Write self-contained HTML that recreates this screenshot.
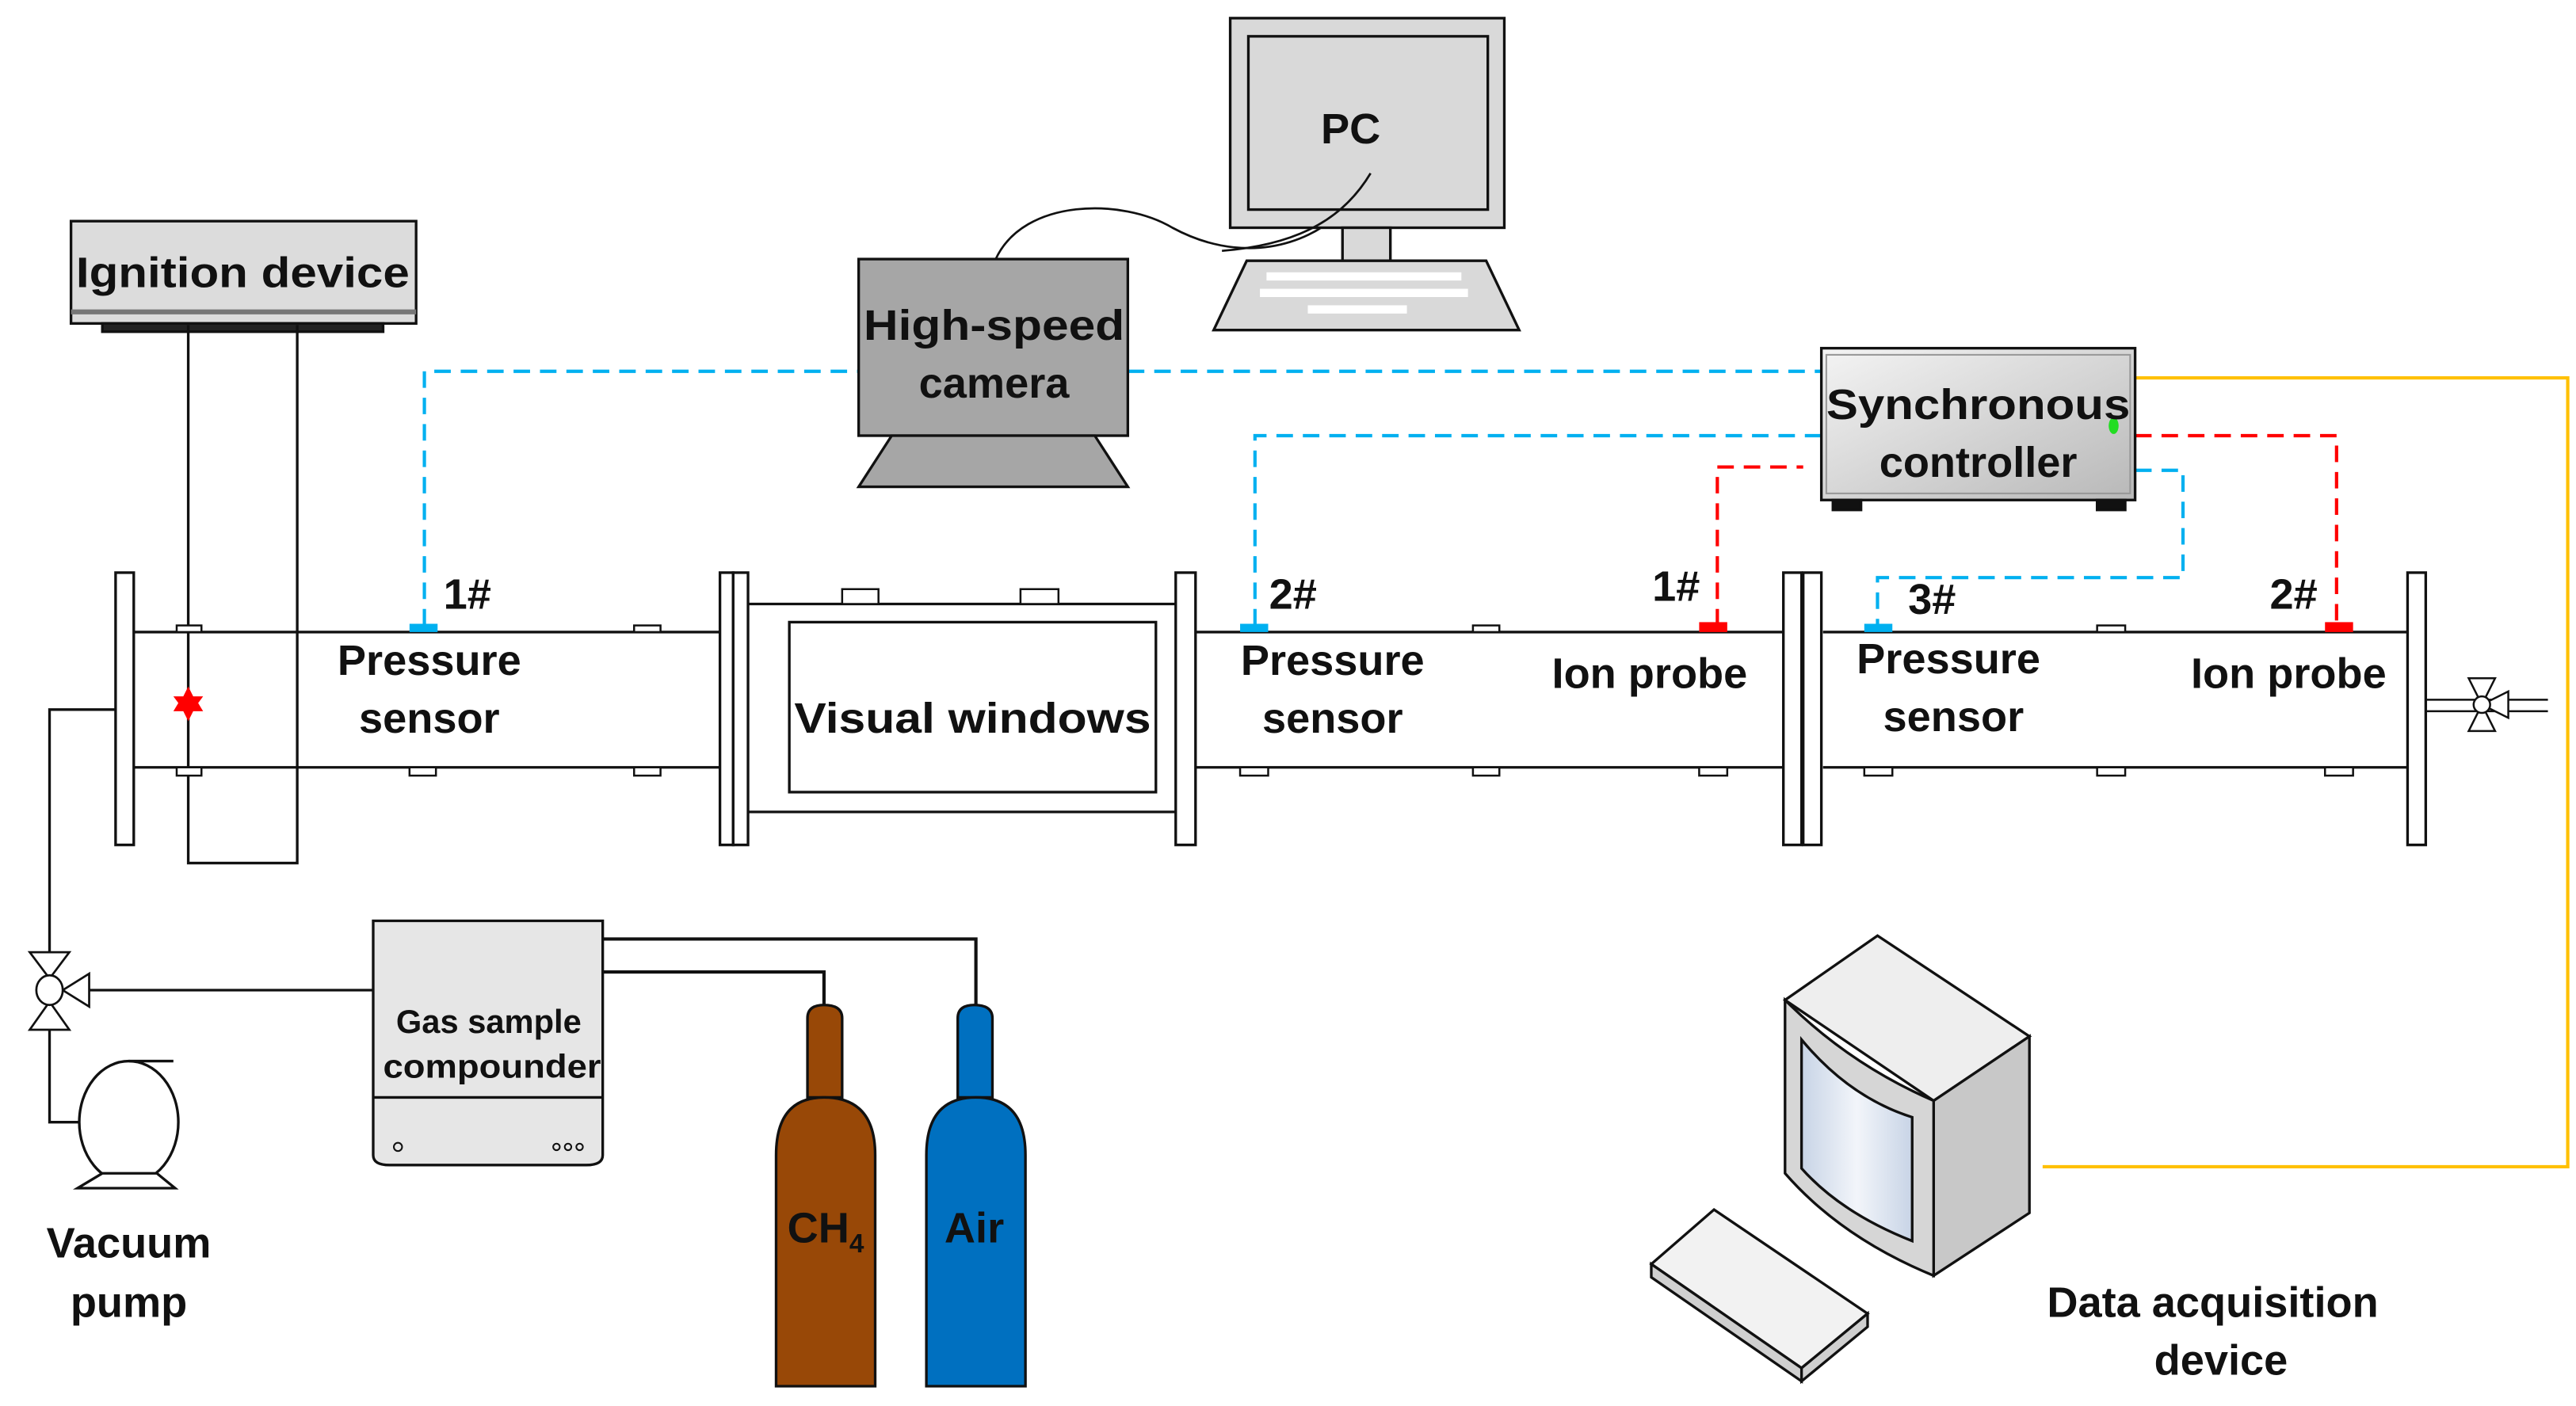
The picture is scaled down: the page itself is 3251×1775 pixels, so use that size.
<!DOCTYPE html>
<html><head><meta charset="utf-8"><style>
html,body{margin:0;padding:0;background:#fff;}
svg{display:block;}
text{font-family:"Liberation Sans",Arial,sans-serif;font-weight:bold;fill:#111;}
</style></head><body>
<svg width="3251" height="1775" viewBox="0 0 1560 852" preserveAspectRatio="none" xmlns="http://www.w3.org/2000/svg">
<defs>
<linearGradient id="sg" x1="0" y1="0" x2="1" y2="1"><stop offset="0" stop-color="#f4f4f4"/><stop offset="1" stop-color="#b8b8b8"/></linearGradient>
<linearGradient id="scr" x1="0" y1="0" x2="1" y2="0"><stop offset="0" stop-color="#c8d4e6"/><stop offset="0.5" stop-color="#f2f5fa"/><stop offset="1" stop-color="#c8d4e6"/></linearGradient>
</defs>
<g stroke="#111" stroke-width="1.6" fill="none">
<!-- connectors -->
<g stroke="#00b0f0" stroke-width="2" stroke-dasharray="10,6">
<path d="M257,379 V225 H520"/><path d="M683,225 H1103"/>
<path d="M760,379 V264 H1103"/>
<path d="M1293,285 H1322 V350 H1137 V379"/>
</g>
<g stroke="#ff0000" stroke-width="2" stroke-dasharray="10,6">
<path d="M1040,379 V283 H1092"/>
<path d="M1293,264 H1415 V379"/>
</g>
<path d="M1293,229 H1555 V707 H1237" stroke="#ffc000" stroke-width="2"/>
<!-- ignition -->
<rect x="43" y="134" width="209" height="62" fill="#dcdcdc"/>
<line x1="43" y1="189" x2="252" y2="189" stroke="#777" stroke-width="3"/>
<rect x="62" y="196" width="170" height="5" fill="#222"/>
<path d="M114,197 V523 H180 V197"/>
<!-- pipe section 1 -->
<rect x="70" y="347" width="11" height="165" fill="#fff"/>
<path d="M81,383 H436 M81,465 H436"/>
<g fill="#fff" stroke-width="1.2">
<rect x="107" y="379" width="15" height="4"/><rect x="384" y="379" width="16" height="4"/>
<rect x="107" y="465" width="15" height="5"/><rect x="248" y="465" width="16" height="5"/><rect x="384" y="465" width="16" height="5"/>
</g>
<rect x="248" y="378" width="17" height="5" fill="#00b0f0" stroke="none"/>
<path d="M114,416 l3,6 6,0 -3,4 3,5 -6,0 -3,6 -3,-6 -6,0 3,-5 -3,-4 6,0z" fill="#ff0000" stroke="none"/>
<!-- visual window -->
<rect x="436" y="347" width="8" height="165" fill="#fff"/><rect x="444" y="347" width="9" height="165" fill="#fff"/>
<path d="M453,366 H712 M453,492 H712"/>
<rect x="510" y="357" width="22" height="9" fill="#fff" stroke-width="1.2"/><rect x="618" y="357" width="23" height="9" fill="#fff" stroke-width="1.2"/>
<rect x="478" y="377" width="222" height="103" fill="#fff"/>
<rect x="712" y="347" width="12" height="165" fill="#fff"/>
<!-- section 2 -->
<path d="M724,383 H1080 M724,465 H1080"/>
<g fill="#fff" stroke-width="1.2">
<rect x="892" y="379" width="16" height="4"/>
<rect x="751" y="465" width="17" height="5"/><rect x="892" y="465" width="16" height="5"/><rect x="1029" y="465" width="17" height="5"/>
</g>
<rect x="751" y="378" width="17" height="5" fill="#00b0f0" stroke="none"/>
<rect x="1029" y="377" width="17" height="6" fill="#ff0000" stroke="none"/>
<rect x="1080" y="347" width="11" height="165" fill="#fff"/><rect x="1092" y="347" width="11" height="165" fill="#fff"/>
<!-- section 3 -->
<path d="M1104,383 H1458 M1104,465 H1458"/>
<g fill="#fff" stroke-width="1.2">
<rect x="1270" y="379" width="17" height="4"/>
<rect x="1129" y="465" width="17" height="5"/><rect x="1270" y="465" width="17" height="5"/><rect x="1408" y="465" width="17" height="5"/>
</g>
<rect x="1129" y="378" width="17" height="5" fill="#00b0f0" stroke="none"/>
<rect x="1408" y="377" width="17" height="6" fill="#ff0000" stroke="none"/>
<rect x="1458" y="347" width="11" height="165" fill="#fff"/>
<path d="M1469,424 H1543 M1469,431 H1543" stroke-width="1.2"/>
<g fill="#fff" stroke-width="1.2"><path d="M1495,411 H1511 L1503,427Z M1495,443 H1511 L1503,427Z M1503,427 L1519,419 V435Z"/><circle cx="1503" cy="427" r="5"/></g>
<!-- camera -->
<path d="M603,157 C620,120 680,120 710,138 C760,165 810,145 830,105" stroke-width="1.3"/>
<rect x="520" y="157" width="163" height="107" fill="#a6a6a6"/>
<path d="M540,264 H663 L683,295 H520Z" fill="#a6a6a6"/>
<!-- PC -->
<rect x="745" y="11" width="166" height="127" fill="#d9d9d9"/>
<rect x="756" y="22" width="145" height="105" fill="#d9d9d9"/>
<path d="M830,105 C815,130 790,148 740,152" stroke-width="1.3"/>
<rect x="813" y="138" width="29" height="20" fill="#d9d9d9"/>
<path d="M755,158 H900 L920,200 H735Z" fill="#d9d9d9"/>
<g fill="#fff" stroke="none">
<rect x="767" y="165" width="118" height="5"/><rect x="763" y="175" width="126" height="5"/><rect x="792" y="185" width="60" height="5"/>
</g>
<!-- sync controller -->
<rect x="1103" y="211" width="190" height="92" fill="url(#sg)"/>
<rect x="1106" y="215" width="184" height="84" fill="none" stroke="#999" stroke-width="1"/>
<rect x="1110" y="303" width="17" height="6" fill="#111"/><rect x="1270" y="303" width="17" height="6" fill="#111"/>
<ellipse cx="1280" cy="258" rx="3" ry="5" fill="#22dd22" stroke="none"/>
<!-- data acquisition -->
<path d="M1081,606 L1137,567 L1229,628 L1171,667Z" fill="#eeeeee"/>
<path d="M1171,667 L1229,628 V735 L1171,773Z" fill="#c8c8c8"/>
<path d="M1081,606 Q1120,645 1171,667 V773 Q1115,750 1081,711Z" fill="#d6d6d6"/>
<path d="M1091,630 Q1120,665 1158,677 V752 Q1115,735 1091,708Z" fill="url(#scr)"/>
<path d="M1000,766 L1038,733 L1131,796 L1091,829Z" fill="#f2f2f2"/>
<path d="M1000,766 V774 L1091,837 V829Z M1091,829 L1131,796 V804 L1091,837Z" fill="#cfcfcf"/>
<!-- bottom left -->
<path d="M70,430 H30 V577"/>
<path d="M54,600 H226"/>
<path d="M30,624 V680 H78"/>
<g fill="#fff" stroke-width="1.3"><path d="M18,577 H42 L30,593Z M18,624 H42 L30,607Z M38,600 L54,590 V610Z"/><ellipse cx="30" cy="600" rx="8" ry="9"/></g>
<ellipse cx="78" cy="680" rx="30" ry="37" fill="#fff"/>
<path d="M78,643 H105" />
<path d="M62,711 H95 L106,720 H47Z" fill="#fff"/>
<path d="M365,569 H591 V610 M365,589 H499 V610" stroke-width="2"/>
<path d="M226,558 H365 V700 Q365,706 355,706 H236 Q226,706 226,700Z" fill="#e6e6e6"/>
<line x1="226" y1="665" x2="365" y2="665"/>
<circle cx="241" cy="695" r="2.5" stroke-width="1"/><circle cx="337" cy="695" r="2" stroke-width="1"/><circle cx="344" cy="695" r="2" stroke-width="1"/><circle cx="351" cy="695" r="2" stroke-width="1"/>
<path d="M489,665 V617 Q489,609 499,609 Q510,609 510,617 V665Z" fill="#984807"/>
<path d="M470,840 V700 Q470,665 499,665 Q530,665 530,700 V840Z" fill="#984807"/>
<path d="M580,665 V617 Q580,609 590,609 Q601,609 601,617 V665Z" fill="#0070c0"/>
<path d="M561,840 V700 Q561,665 591,665 Q621,665 621,700 V840Z" fill="#0070c0"/>
</g>
<!-- text -->
<g font-size="26">
<text x="147" y="174" text-anchor="middle" textLength="202" lengthAdjust="spacingAndGlyphs">Ignition device</text>
<text x="602" y="206" text-anchor="middle" textLength="158" lengthAdjust="spacingAndGlyphs">High-speed</text>
<text x="602" y="241" text-anchor="middle">camera</text>
<text x="818" y="87" text-anchor="middle">PC</text>
<text x="1198" y="254" text-anchor="middle" textLength="184" lengthAdjust="spacingAndGlyphs">Synchronous</text>
<text x="1198" y="289" text-anchor="middle">controller</text>
<text x="283" y="369" text-anchor="middle">1#</text>
<text x="260" y="409" text-anchor="middle">Pressure</text>
<text x="260" y="444" text-anchor="middle">sensor</text>
<text x="589" y="444" text-anchor="middle" textLength="216" lengthAdjust="spacingAndGlyphs">Visual windows</text>
<text x="783" y="369" text-anchor="middle">2#</text>
<text x="807" y="409" text-anchor="middle">Pressure</text>
<text x="807" y="444" text-anchor="middle">sensor</text>
<text x="1015" y="364" text-anchor="middle">1#</text>
<text x="999" y="417" text-anchor="middle">Ion probe</text>
<text x="1170" y="372" text-anchor="middle">3#</text>
<text x="1180" y="408" text-anchor="middle">Pressure</text>
<text x="1183" y="443" text-anchor="middle">sensor</text>
<text x="1389" y="369" text-anchor="middle">2#</text>
<text x="1386" y="417" text-anchor="middle">Ion probe</text>
<text x="78" y="762" text-anchor="middle">Vacuum</text>
<text x="78" y="798" text-anchor="middle">pump</text>
<text x="500" y="753" text-anchor="middle">CH<tspan font-size="16" dy="6">4</tspan></text>
<text x="590" y="753" text-anchor="middle">Air</text>
<text x="1340" y="798" text-anchor="middle">Data acquisition</text>
<text x="1345" y="833" text-anchor="middle">device</text>
</g>
<g font-size="20">
<text x="296" y="626" text-anchor="middle">Gas sample</text>
<text x="298" y="653" text-anchor="middle" textLength="132" lengthAdjust="spacingAndGlyphs">compounder</text>
</g>
</svg>
</body></html>
